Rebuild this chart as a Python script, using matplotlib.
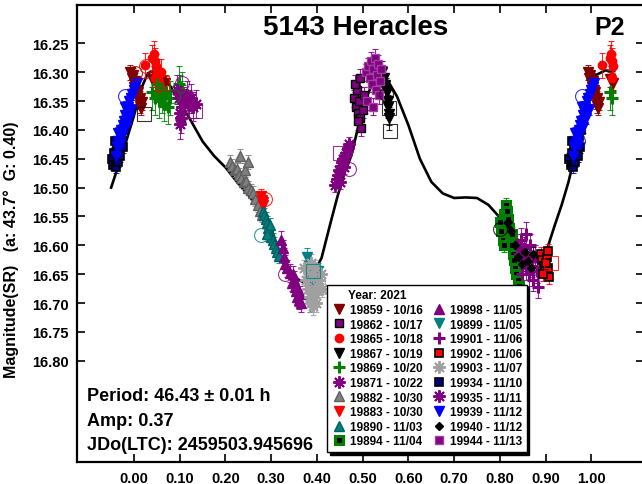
import matplotlib
matplotlib.use('Agg')
import matplotlib.pyplot as plt
from matplotlib.lines import Line2D

plt.rcParams['font.family'] = ['Liberation Sans', 'DejaVu Sans']
plt.rcParams['font.weight'] = 'bold'

# Fourier fit curve (phase, magnitude)
curve_phase = [-0.050, -0.025, 0.000, 0.015, 0.030, 0.045, 0.060, 0.080, 0.100, 0.125,
               0.150, 0.175, 0.200, 0.225, 0.250, 0.275, 0.300, 0.325, 0.350, 0.370,
               0.390, 0.410, 0.430, 0.445, 0.460, 0.475, 0.490, 0.505, 0.520, 0.540,
               0.555, 0.575, 0.600, 0.625, 0.650, 0.675, 0.700, 0.725, 0.750, 0.775,
               0.800, 0.825, 0.850, 0.875, 0.890, 0.905, 0.920, 0.935, 0.950, 0.965,
               0.980, 0.995, 1.010, 1.030, 1.050]
curve_mag = [16.500, 16.440, 16.375, 16.330, 16.302, 16.297, 16.305, 16.325, 16.352, 16.385,
             16.420, 16.445, 16.465, 16.490, 16.513, 16.538, 16.570, 16.630, 16.655, 16.664,
             16.652, 16.622, 16.560, 16.515, 16.475, 16.445, 16.395, 16.350, 16.322, 16.308,
             16.315, 16.342, 16.392, 16.450, 16.490, 16.510, 16.518, 16.517, 16.518, 16.530,
             16.552, 16.585, 16.610, 16.625, 16.626, 16.602, 16.565, 16.530, 16.490, 16.440,
             16.380, 16.330, 16.305, 16.297, 16.298]

# sessions (phase 0..1, magnitude)
ph_19859 = [0.992, 0.995, 0.997, 0.999, 0.001, 0.003, 0.005, 0.006, 0.008, 0.010, 0.012, 0.013,
            0.015, 0.017, 0.040, 0.048, 0.060, 0.068]
mag_19859 = [16.300, 16.310, 16.305, 16.318, 16.325, 16.315, 16.330, 16.342, 16.335, 16.350,
             16.345, 16.358, 16.362, 16.352, 16.312, 16.318, 16.315, 16.318]

ph_19862 = [0.482, 0.485, 0.487, 0.490, 0.492, 0.495, 0.497, 0.500, 0.502, 0.484, 0.489, 0.494]
mag_19862 = [16.345, 16.360, 16.330, 16.370, 16.350, 16.380, 16.396, 16.365, 16.340, 16.320,
             16.385, 16.310]

ph_19865 = [0.024, 0.040, 0.043, 0.046, 0.048, 0.050, 0.052, 0.054, 0.056, 0.058, 0.060, 0.062, 0.045]
mag_19865 = [16.288, 16.275, 16.268, 16.280, 16.290, 16.300, 16.310, 16.318, 16.325, 16.332,
             16.300, 16.338, 16.310]

ph_19867 = [0.543, 0.546, 0.548, 0.550, 0.553, 0.555, 0.556, 0.557, 0.558]
mag_19867 = [16.300, 16.310, 16.322, 16.330, 16.335, 16.350, 16.360, 16.372, 16.380]

ph_19869 = [0.040, 0.045, 0.050, 0.055, 0.058, 0.062, 0.065, 0.070, 0.075, 0.078, 0.098, 0.100,
            0.102, 0.104, 0.106, 0.108]
mag_19869 = [16.335, 16.345, 16.320, 16.350, 16.330, 16.340, 16.355, 16.335, 16.360, 16.345,
             16.320, 16.335, 16.345, 16.330, 16.360, 16.352]

ph_19871 = [0.095, 0.098, 0.100, 0.102, 0.105, 0.110, 0.115, 0.120, 0.125, 0.130, 0.135, 0.100]
mag_19871 = [16.330, 16.345, 16.370, 16.380, 16.360, 16.350, 16.340, 16.355, 16.345, 16.360,
             16.355, 16.390]

ph_19882 = [0.210, 0.215, 0.220, 0.225, 0.230, 0.235, 0.240, 0.245, 0.250, 0.255, 0.260, 0.265,
            0.270, 0.275, 0.280, 0.232, 0.242, 0.250]
mag_19882 = [16.455, 16.462, 16.470, 16.468, 16.478, 16.483, 16.490, 16.488, 16.500, 16.505,
             16.510, 16.520, 16.530, 16.540, 16.548, 16.445, 16.470, 16.456]

ph_19883 = [0.277, 0.279, 0.281, 0.283]
mag_19883 = [16.515, 16.522, 16.530, 16.525]

ph_19890 = [0.282, 0.285, 0.288, 0.290, 0.293, 0.296, 0.300, 0.303, 0.306, 0.310, 0.313, 0.316,
            0.298, 0.291]
mag_19890 = [16.540, 16.548, 16.555, 16.562, 16.570, 16.575, 16.585, 16.590, 16.598, 16.605,
             16.612, 16.618, 16.565, 16.580]

ph_19894 = [0.800, 0.803, 0.806, 0.810, 0.813, 0.815, 0.818, 0.820, 0.822, 0.825, 0.828, 0.830,
            0.833, 0.836, 0.839, 0.842, 0.808, 0.826]
mag_19894 = [16.560, 16.575, 16.590, 16.545, 16.530, 16.540, 16.555, 16.570, 16.585, 16.600,
             16.615, 16.625, 16.640, 16.650, 16.660, 16.670, 16.600, 16.580]

ph_19898 = [0.322, 0.325, 0.328, 0.331, 0.335, 0.340, 0.345, 0.348, 0.350, 0.352, 0.355, 0.357,
            0.360, 0.362, 0.365, 0.358]
mag_19898 = [16.590, 16.605, 16.620, 16.632, 16.640, 16.648, 16.665, 16.650, 16.660, 16.672,
             16.680, 16.690, 16.695, 16.685, 16.700, 16.675]

ph_19899 = [0.378, 0.382, 0.385, 0.388, 0.390, 0.393, 0.396, 0.400, 0.403, 0.384]
mag_19899 = [16.620, 16.635, 16.650, 16.660, 16.670, 16.680, 16.690, 16.665, 16.645, 16.700]

ph_19901 = [0.838, 0.842, 0.846, 0.850, 0.853, 0.856, 0.860, 0.863, 0.866, 0.870, 0.873, 0.876,
            0.880, 0.884, 0.848, 0.858]
mag_19901 = [16.600, 16.615, 16.590, 16.625, 16.605, 16.640, 16.620, 16.650, 16.600, 16.635,
             16.660, 16.620, 16.645, 16.672, 16.650, 16.580]

ph_19902 = [0.890, 0.893, 0.896, 0.899, 0.902, 0.905, 0.908, 0.895, 0.900, 0.906]
mag_19902 = [16.615, 16.625, 16.635, 16.645, 16.620, 16.640, 16.655, 16.650, 16.630, 16.610]

ph_19903 = [0.372, 0.376, 0.380, 0.384, 0.388, 0.392, 0.396, 0.400, 0.404, 0.408, 0.395, 0.386,
            0.390, 0.398, 0.410]
mag_19903 = [16.640, 16.660, 16.675, 16.690, 16.700, 16.705, 16.685, 16.670, 16.660, 16.650,
             16.640, 16.630, 16.650, 16.700, 16.675]

ph_19934 = [0.952, 0.955, 0.957, 0.960, 0.962, 0.965, 0.967, 0.970, 0.972, 0.975, 0.978, 0.958]
mag_19934 = [16.450, 16.460, 16.440, 16.465, 16.430, 16.455, 16.420, 16.445, 16.410, 16.430,
             16.400, 16.420]

ph_19935 = [0.440, 0.443, 0.446, 0.449, 0.452, 0.455, 0.458, 0.461, 0.464, 0.467, 0.470, 0.450, 0.460]
mag_19935 = [16.495, 16.485, 16.478, 16.470, 16.462, 16.455, 16.450, 16.445, 16.440, 16.432,
             16.425, 16.490, 16.465]

ph_19939 = [0.960, 0.963, 0.966, 0.969, 0.972, 0.975, 0.978, 0.981, 0.984, 0.987, 0.990, 0.993,
            0.996, 0.999, 0.003, 0.006, 0.970, 0.976, 0.982, 0.988, 0.994, 0.980, 0.965]
mag_19939 = [16.445, 16.430, 16.420, 16.410, 16.400, 16.392, 16.385, 16.375, 16.368, 16.360,
             16.350, 16.345, 16.338, 16.330, 16.325, 16.318, 16.425, 16.405, 16.395, 16.380,
             16.365, 16.360, 16.405]

ph_19940 = [0.818, 0.825, 0.832, 0.840, 0.848, 0.855, 0.862, 0.868, 0.872]
mag_19940 = [16.560, 16.575, 16.600, 16.620, 16.632, 16.612, 16.628, 16.640, 16.615]

ph_19944 = [0.508, 0.512, 0.515, 0.518, 0.520, 0.523, 0.526, 0.528, 0.531, 0.534, 0.536, 0.538,
            0.540, 0.510, 0.522]
mag_19944 = [16.300, 16.290, 16.310, 16.280, 16.320, 16.295, 16.275, 16.330, 16.305, 16.285,
             16.340, 16.315, 16.295, 16.350, 16.360]

# typical error bar (mag) per session
err_sizes = {'19859': 0.013, '19862': 0.015, '19865': 0.022, '19867': 0.020, '19869': 0.030,
             '19871': 0.025, '19882': 0.012, '19883': 0.012, '19890': 0.012, '19894': 0.012,
             '19898': 0.015, '19899': 0.015, '19901': 0.020, '19902': 0.012, '19903': 0.015,
             '19934': 0.010, '19935': 0.012, '19939': 0.010, '19940': 0.012, '19944': 0.015}

# open (hollow) symbols seen around the clusters
hollow_phase = [0.002, 0.026, 0.062, 0.085, 0.105, 0.133, -0.020, 0.022, 0.980, 0.287,
                0.278, 0.330, 0.392, 0.402, 0.558, 0.560, 0.470, 0.450, 0.552, 0.800,
                0.912, 0.970]
hollow_mag = [16.302, 16.289, 16.318, 16.342, 16.318, 16.368, 16.342, 16.372, 16.342, 16.520,
              16.582, 16.650, 16.645, 16.672, 16.362, 16.402, 16.468, 16.440, 16.338, 16.572,
              16.630, 16.420]
hollow_color = ['#800000', '#ff0000', '#ff0000', '#008000', '#800080', '#800080', '#0000ff',
                'black', '#0000ff', '#ff0000', '#008080', '#800080', '#008080', '#a0a0a0',
                'black', 'black', '#800080', '#800080', 'black', 'black', '#ff0000', '#0000ff']
hollow_marker = ['o', 'o', 's', 'o', 'o', 's', 'o', 's', 'o', 'o', 'o', 'o', 's', 's', 's', 's',
                 'o', 's', 'o', 'o', 's', 'o']

labels = ['19859 - 10/16', '19862 - 10/17', '19865 - 10/18', '19867 - 10/19', '19869 - 10/20',
          '19871 - 10/22', '19882 - 10/30', '19883 - 10/30', '19890 - 11/03', '19894 - 11/04',
          '19898 - 11/05', '19899 - 11/05', '19901 - 11/06', '19902 - 11/06', '19903 - 11/07',
          '19934 - 11/10', '19935 - 11/11', '19939 - 11/12', '19940 - 11/12', '19944 - 11/13']

sessions = {
    '19859': (ph_19859, mag_19859), '19862': (ph_19862, mag_19862), '19865': (ph_19865, mag_19865),
    '19867': (ph_19867, mag_19867), '19869': (ph_19869, mag_19869), '19871': (ph_19871, mag_19871),
    '19882': (ph_19882, mag_19882), '19883': (ph_19883, mag_19883), '19890': (ph_19890, mag_19890),
    '19894': (ph_19894, mag_19894), '19898': (ph_19898, mag_19898), '19899': (ph_19899, mag_19899),
    '19901': (ph_19901, mag_19901), '19902': (ph_19902, mag_19902), '19903': (ph_19903, mag_19903),
    '19934': (ph_19934, mag_19934), '19935': (ph_19935, mag_19935), '19939': (ph_19939, mag_19939),
    '19940': (ph_19940, mag_19940), '19944': (ph_19944, mag_19944),
}

# marker styles: (marker, face, edge, edge width, size, errcolor)
AST = (8, 2, 0)
styles = {
    '19859': ('v', '#800000', '#800000', 1, 6.5, '#800000'),
    '19862': ('s', '#800080', 'black', 1, 6, '#800080'),
    '19865': ('o', '#ff0000', '#ff0000', 1, 6, '#ff0000'),
    '19867': ('v', 'black', 'black', 1, 6.5, 'black'),
    '19869': ('+', '#008000', '#008000', 2.2, 8, '#008000'),
    '19871': (AST, '#800080', '#800080', 1.4, 9, '#800080'),
    '19882': ('^', '#808080', '#606060', 1, 6.5, '#808080'),
    '19883': ('v', '#ff0000', '#ff0000', 1, 6.5, '#ff0000'),
    '19890': ('^', '#008080', '#006060', 1, 6.5, '#008080'),
    '19894': ('s', 'black', '#008000', 2.2, 6, '#008000'),
    '19898': ('^', '#800080', '#800080', 1, 6.5, '#800080'),
    '19899': ('v', '#008080', '#008080', 1, 6.5, '#008080'),
    '19901': ('+', '#800080', '#800080', 2.2, 8, '#800080'),
    '19902': ('s', '#ff0000', 'black', 1.2, 6, '#ff0000'),
    '19903': (AST, '#a0a0a0', '#a0a0a0', 1.4, 9, '#a0a0a0'),
    '19934': ('s', '#000080', 'black', 1.2, 6, '#000080'),
    '19935': (AST, '#800080', '#800080', 1.4, 9, '#800080'),
    '19939': ('v', '#0000ff', '#0000ff', 1, 6.5, '#0000ff'),
    '19940': ('D', 'black', 'black', 1, 4.5, 'black'),
    '19944': ('s', '#800080', '#a040a0', 1, 6, '#800080'),
}

fig = plt.figure(figsize=(6.42, 4.85), dpi=100)
ax = fig.add_axes([0.1204, 0.0447, 0.8827, 0.9429])

ax.plot(curve_phase, curve_mag, color='black', lw=1.9, zorder=2)

handles = []
for key, (ph, mg) in sessions.items():
    mk, fc, ec, mew, ms, erc = styles[key]
    # repeat phases near the ends like the original plot (-0.05 .. 1.05)
    xs, ys = [], []
    for p, m in zip(ph, mg):
        xs.append(p)
        ys.append(m)
        if p > 0.95:
            xs.append(p - 1)
            ys.append(m)
        if p < 0.05:
            xs.append(p + 1)
            ys.append(m)
    ax.errorbar(xs, ys, yerr=err_sizes[key], fmt='none', ecolor=erc, elinewidth=0.8,
                capsize=2.5, capthick=0.8, alpha=0.85, zorder=3)
    ax.plot(xs, ys, ls='none', marker=mk, mfc=fc, mec=ec, mew=mew, ms=ms, zorder=4)
    handles.append(Line2D([], [], ls='none', marker=mk, mfc=fc, mec=ec, mew=mew, ms=ms))

for p, m, c, mk in zip(hollow_phase, hollow_mag, hollow_color, hollow_marker):
    ax.plot([p], [m], ls='none', marker=mk, mfc='none', mec=c, mew=0.8, ms=10,
            alpha=0.8, zorder=5)

ax.set_xlim(-0.124, 1.115)
ax.set_ylim(16.976, 16.1836)
ax.set_xticks([0.0, 0.1, 0.2, 0.3, 0.4, 0.5, 0.6, 0.7, 0.8, 0.9, 1.0])
ax.set_xticklabels(['%.2f' % v for v in ax.get_xticks()])
yt = [16.25, 16.30, 16.35, 16.40, 16.45, 16.50, 16.55, 16.60, 16.65, 16.70, 16.75, 16.80]
ax.set_yticks(yt)
ax.set_yticklabels(['%.2f' % v for v in yt])
ax.tick_params(direction='in', length=6, width=1.2, labelsize=10.5, pad=6,
               top=True, right=True)
for s in ax.spines.values():
    s.set_linewidth(1.6)

ax.set_ylabel('Magnitude(SR)   (a: 43.7\u00b0  G: 0.40)', fontsize=11.5, fontweight='bold',
              labelpad=4)
ax.yaxis.set_label_coords(-0.102, 0.466)

ax.text(0.492, 0.953, '5143 Heracles', transform=ax.transAxes, ha='center', va='center',
        fontsize=20, fontweight='bold')
ax.text(0.94, 0.953, 'P2', transform=ax.transAxes, ha='center', va='center',
        fontsize=18, fontweight='bold')

ax.text(0.0176, 0.1456, 'Period: 46.43 \u00b1 0.01 h', transform=ax.transAxes, va='center',
        fontsize=13, fontweight='bold')
ax.text(0.0176, 0.091, 'Amp: 0.37', transform=ax.transAxes, va='center',
        fontsize=13, fontweight='bold')
ax.text(0.0176, 0.040, 'JDo(LTC): 2459503.945696', transform=ax.transAxes, va='center',
        fontsize=13, fontweight='bold')

leg = ax.legend(handles, labels, ncol=2, loc='lower left', bbox_to_anchor=(0.441, 0.0225),
                title='     Year: 2021', alignment='left', fontsize=8.5,
                title_fontproperties={'weight': 'bold', 'size': 8.5},
                frameon=True, fancybox=False, edgecolor='black', framealpha=1,
                shadow={'color': 'black', 'alpha': 1}, borderpad=0.4, labelspacing=0.22,
                handletextpad=0.3, columnspacing=0.8, handlelength=1.2, borderaxespad=0)
leg.get_frame().set_linewidth(1.0)
for t in leg.get_texts():
    t.set_fontweight('bold')
leg.set_zorder(10)

fig.savefig('out.png', dpi=100)
